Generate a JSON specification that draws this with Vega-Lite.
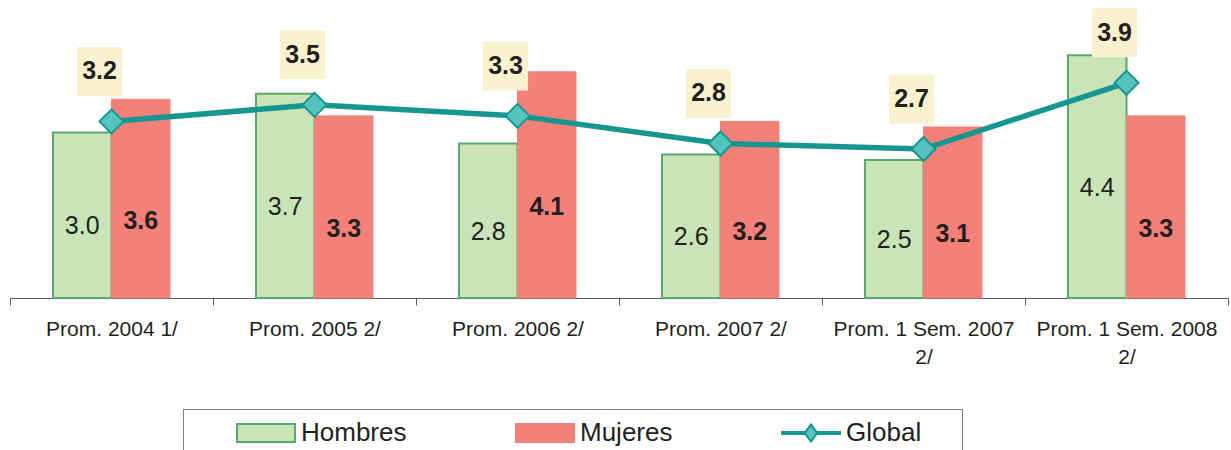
{
  "$schema": "https://vega.github.io/schema/vega-lite/v6.json",
  "width": 1218,
  "height": 298,
  "autosize": {"type": "none"},
  "padding": {"left": 10, "top": 0, "right": 3, "bottom": 152},
  "background": "white",
  "config": {"view": {"stroke": null}, "font": "Liberation Sans"},
  "data": {
    "values": [
      {"cat": "Prom. 2004 1/", "serie": "Hombres", "value": 3.0},
      {"cat": "Prom. 2004 1/", "serie": "Mujeres", "value": 3.6},
      {"cat": "Prom. 2004 1/", "serie": "Global", "value": 3.2},
      {"cat": "Prom. 2005 2/", "serie": "Hombres", "value": 3.7},
      {"cat": "Prom. 2005 2/", "serie": "Mujeres", "value": 3.3},
      {"cat": "Prom. 2005 2/", "serie": "Global", "value": 3.5},
      {"cat": "Prom. 2006 2/", "serie": "Hombres", "value": 2.8},
      {"cat": "Prom. 2006 2/", "serie": "Mujeres", "value": 4.1},
      {"cat": "Prom. 2006 2/", "serie": "Global", "value": 3.3},
      {"cat": "Prom. 2007 2/", "serie": "Hombres", "value": 2.6},
      {"cat": "Prom. 2007 2/", "serie": "Mujeres", "value": 3.2},
      {"cat": "Prom. 2007 2/", "serie": "Global", "value": 2.8},
      {"cat": "Prom. 1 Sem. 2007 2/", "serie": "Hombres", "value": 2.5},
      {"cat": "Prom. 1 Sem. 2007 2/", "serie": "Mujeres", "value": 3.1},
      {"cat": "Prom. 1 Sem. 2007 2/", "serie": "Global", "value": 2.7},
      {"cat": "Prom. 1 Sem. 2008 2/", "serie": "Hombres", "value": 4.4},
      {"cat": "Prom. 1 Sem. 2008 2/", "serie": "Mujeres", "value": 3.3},
      {"cat": "Prom. 1 Sem. 2008 2/", "serie": "Global", "value": 3.9}
    ]
  },
  "encoding": {
    "x": {
      "field": "cat",
      "type": "nominal",
      "sort": null,
      "scale": {"paddingInner": 0, "paddingOuter": 0},
      "axis": {
        "title": null,
        "domainColor": "#595959",
        "tickColor": "#595959",
        "tickSize": 7,
        "tickBand": "extent",
        "labelFont": "Liberation Sans",
        "labelFontSize": 21,
        "labelColor": "#231f20",
        "labelPadding": 13,
        "labelAngle": 0,
        "labelLimit": 300,
        "labelOverlap": false,
        "labelLineHeight": 28,
        "labelExpr": "length(datum.label) > 15 ? [slice(datum.label, 0, lastindexof(datum.label, ' ')), slice(datum.label, lastindexof(datum.label, ' ') + 1)] : datum.label"
      }
    }
  },
  "layer": [
    {
      "transform": [{"filter": "datum.serie === 'Hombres'"}],
      "mark": {"type": "bar", "fill": "#c9e4b7", "stroke": "#5aa86c", "strokeWidth": 2},
      "encoding": {
        "xOffset": {"field": "serie", "type": "nominal", "scale": {"domain": ["Hombres", "Mujeres"], "paddingInner": 0, "paddingOuter": 0.735}},
        "y": {"field": "value", "type": "quantitative", "scale": {"domain": [0, 5.4], "nice": false}, "axis": null}
      }
    },
    {
      "transform": [{"filter": "datum.serie === 'Mujeres'"}],
      "mark": {"type": "bar", "fill": "#f4807a", "stroke": "#f4807a", "strokeWidth": 1},
      "encoding": {
        "xOffset": {"field": "serie", "type": "nominal", "scale": {"domain": ["Hombres", "Mujeres"], "paddingInner": 0, "paddingOuter": 0.735}},
        "y": {"field": "value", "type": "quantitative", "scale": {"domain": [0, 5.4], "nice": false}, "axis": null}
      }
    },
    {
      "transform": [{"filter": "datum.serie === 'Hombres'"}],
      "mark": {"type": "text", "font": "Liberation Sans", "fontSize": 25, "color": "#231f20", "dy": 11, "baseline": "middle"},
      "encoding": {
        "xOffset": {"field": "serie", "type": "nominal", "scale": {"domain": ["Hombres", "Mujeres"], "paddingInner": 0, "paddingOuter": 0.735}},
        "y": {"field": "value", "type": "quantitative", "scale": {"domain": [0, 10.8], "nice": false}, "axis": null},
        "text": {"field": "value", "type": "quantitative", "format": ".1f"}
      }
    },
    {
      "transform": [{"filter": "datum.serie === 'Mujeres'"}],
      "mark": {"type": "text", "font": "Liberation Sans", "fontSize": 25, "fontWeight": "bold", "color": "#231f20", "dy": 22, "baseline": "middle"},
      "encoding": {
        "xOffset": {"field": "serie", "type": "nominal", "scale": {"domain": ["Hombres", "Mujeres"], "paddingInner": 0, "paddingOuter": 0.735}},
        "y": {"field": "value", "type": "quantitative", "scale": {"domain": [0, 10.8], "nice": false}, "axis": null},
        "text": {"field": "value", "type": "quantitative", "format": ".1f"}
      }
    },
    {
      "transform": [{"filter": "datum.serie === 'Global'"}],
      "mark": {"type": "line", "stroke": "#17968f", "strokeWidth": 5.5},
      "encoding": {
        "y": {"field": "value", "type": "quantitative", "scale": {"domain": [0, 5.4], "nice": false}, "axis": null}
      }
    },
    {
      "transform": [{"filter": "datum.serie === 'Global'"}],
      "mark": {"type": "point", "shape": "diamond", "size": 576, "filled": true, "fill": "#55c4c0", "stroke": "#17968f", "strokeWidth": 2, "opacity": 1},
      "encoding": {
        "y": {"field": "value", "type": "quantitative", "scale": {"domain": [0, 5.4], "nice": false}, "axis": null}
      }
    },
    {
      "transform": [{"filter": "datum.serie === 'Global'"}],
      "mark": {"type": "point", "shape": "M-0.92,-1H0.92V1H-0.92Z", "size": 2401, "filled": true, "fill": "#faf2cf", "strokeWidth": 0, "opacity": 1, "xOffset": -12, "yOffset": -50},
      "encoding": {
        "y": {"field": "value", "type": "quantitative", "scale": {"domain": [0, 5.4], "nice": false}, "axis": null}
      }
    },
    {
      "transform": [{"filter": "datum.serie === 'Global'"}],
      "mark": {"type": "text", "font": "Liberation Sans", "fontSize": 25, "fontWeight": "bold", "color": "#231f20", "dx": -12, "dy": -50, "baseline": "middle"},
      "encoding": {
        "y": {"field": "value", "type": "quantitative", "scale": {"domain": [0, 5.4], "nice": false}, "axis": null},
        "text": {"field": "value", "type": "quantitative", "format": ".1f"}
      }
    },
    {
      "transform": [{"filter": "false"}],
      "mark": {"type": "point", "filled": true, "opacity": 1, "strokeWidth": 2, "size": 324},
      "encoding": {
        "y": {"field": "value", "type": "quantitative", "scale": {"domain": [0, 5.4], "nice": false}, "axis": null},
        "fill": {
          "field": "serie",
          "type": "nominal",
          "scale": {"domain": ["Hombres", "Mujeres", "Global"], "range": ["#c9e4b7", "#f4807a", "#55c4c0"]},
          "legend": {
            "orient": "none",
            "legendX": 173,
            "legendY": 409,
            "direction": "horizontal",
            "title": "\u00a0",
            "titleOrient": "left",
            "titleFontSize": 10,
            "titlePadding": 43,
            "padding": 11,
            "strokeColor": "#7f7f7f",
            "fillColor": "white",
            "labelFont": "Liberation Sans",
            "labelFontSize": 26,
            "labelColor": "#231f20",
            "labelOffset": 38,
            "labelLimit": 300,
            "labelExpr": "datum.label === 'Global' ? 'Global\u00a0\u00a0\u00a0\u00a0\u200b' : datum.label",
            "columnPadding": 105,
            "symbolSize": 324,
            "symbolStrokeWidth": 2,
            "symbolOffset": 0
          }
        },
        "stroke": {
          "field": "serie",
          "type": "nominal",
          "scale": {"domain": ["Hombres", "Mujeres", "Global"], "range": ["#5aa86c", "#f4807a", "#17968f"]}
        },
        "shape": {
          "field": "serie",
          "type": "nominal",
          "scale": {"domain": ["Hombres", "Mujeres", "Global"], "range": ["M-1.444,-1H5V1H-1.444Z", "M-1.444,-1H5V1H-1.444Z", "M-1.444,-0.12L1.166,-0.12L1.778,-0.95L2.39,-0.12L5,-0.12L5,0.12L2.39,0.12L1.778,0.95L1.166,0.12L-1.444,0.12Z"]}
        }
      }
    }
  ],
  "resolve": {"scale": {"y": "independent"}}
}
